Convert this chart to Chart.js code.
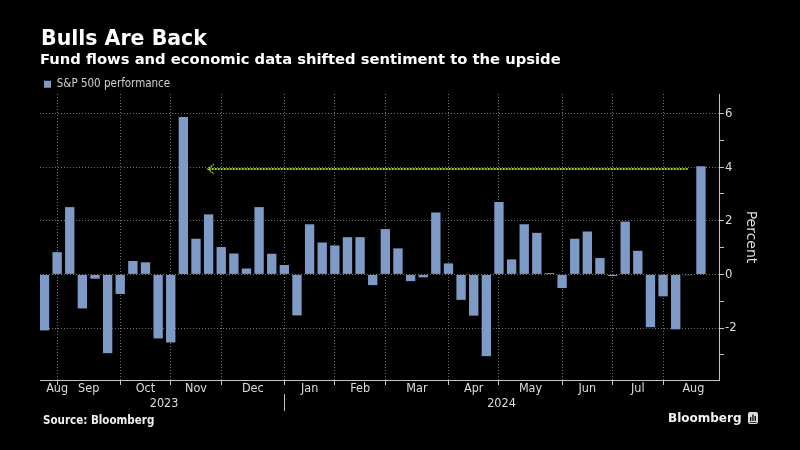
<!DOCTYPE html>
<html><head><meta charset="utf-8">
<script src="https://cdn.jsdelivr.net/npm/chart.js@4/dist/chart.umd.min.js"></script>
<style>
html,body{margin:0;padding:0;background:#000;width:800px;height:450px;overflow:hidden}
#wrap{position:relative;width:800px;height:450px;background:#000}
canvas{position:absolute;left:0;top:0}
.t{position:absolute;color:#fff;white-space:nowrap;line-height:1;font-family:"DejaVu Sans",sans-serif;font-weight:bold}
#title{left:41px;top:28px;font-size:20.5px}
#sub{left:40px;top:51.5px;font-size:14.75px}
#src{left:43px;top:414.5px;font-size:11.5px;font-family:"DejaVu Sans Condensed","DejaVu Sans",sans-serif;color:#eee}
#bbg{left:668px;top:411.5px;font-size:12px;color:#f2f2f2}
#logo{position:absolute;left:748px;top:412px}
</style></head>
<body><div id="wrap">
<canvas id="c" width="800" height="450"></canvas>
<div class="t" id="title">Bulls Are Back</div>
<div class="t" id="sub">Fund flows and economic data shifted sentiment to the upside</div>
<div class="t" id="src">Source: Bloomberg</div>
<div class="t" id="bbg">Bloomberg</div>
<svg id="logo" width="10" height="12" viewBox="0 0 10 12"><rect x="0" y="0" width="10" height="12" rx="2" fill="#dcdcdc"/><rect x="2" y="5" width="1.3" height="4" fill="#000"/><rect x="4.3" y="2.5" width="1.3" height="6.5" fill="#000"/><rect x="6.6" y="4" width="1.3" height="5" fill="#000"/><rect x="1.5" y="10" width="7" height="0.8" fill="#000"/></svg>
</div>
<script>
// ---- data ----
const weekEnding = ['2023-08-18','2023-08-25','2023-09-01','2023-09-08','2023-09-15','2023-09-22','2023-09-29','2023-10-06','2023-10-13','2023-10-20','2023-10-27','2023-11-03','2023-11-10','2023-11-17','2023-11-24','2023-12-01','2023-12-08','2023-12-15','2023-12-22','2023-12-29','2024-01-05','2024-01-12','2024-01-19','2024-01-26','2024-02-02','2024-02-09','2024-02-16','2024-02-23','2024-03-01','2024-03-08','2024-03-15','2024-03-22','2024-03-28','2024-04-05','2024-04-12','2024-04-19','2024-04-26','2024-05-03','2024-05-10','2024-05-17','2024-05-24','2024-05-31','2024-06-07','2024-06-14','2024-06-21','2024-06-28','2024-07-05','2024-07-12','2024-07-19','2024-07-26','2024-08-02','2024-08-09','2024-08-16'];
const spxWeeklyPct = [-2.09,0.83,2.51,-1.27,-0.16,-2.94,-0.73,0.50,0.45,-2.39,-2.54,5.87,1.33,2.24,1.02,0.78,0.22,2.51,0.77,0.35,-1.53,1.87,1.19,1.08,1.39,1.39,-0.40,1.69,0.97,-0.25,-0.11,2.31,0.41,-0.95,-1.54,-3.05,2.70,0.56,1.87,1.55,0.05,-0.51,1.33,1.60,0.61,-0.06,1.97,0.88,-1.97,-0.82,-2.05,-0.03,4.03];
const seriesName = 'S&P 500 performance';
const monthNames = ['Aug','Sep','Oct','Nov','Dec','Jan','Feb','Mar','Apr','May','Jun','Jul','Aug'];
const monthLabelAt = [1, 3.5, 8, 12, 16.5, 21, 25, 29.5, 34, 38.5, 43, 47, 51.4];
const monthGridAt = [1, 6, 10, 14, 19, 23, 27, 32, 36, 41, 45, 49];
const yearNames = ['2023','2024'];
const yearLabelAt = [9.47, 36.2];
const yearBoundaryAt = 19;
const yTickValues = [-3,-2,-1,0,1,2,3,4,5,6];
const yLabelValues = [-2,0,2,4,6];
const arrowLevel = 3.92, arrowTipWeek = 12.95, arrowTailWeek = 50.95;
const xRange = [-0.356, 53.43], yRange = [-3.94, 6.73];

// ---- styles ----
const BAR = '#7e9bc7', GRID = '#707070', AXIS = '#c4c4c4', TXT = '#dedede';
const COND = "'DejaVu Sans Condensed','DejaVu Sans',sans-serif";

const arrowPlugin = {
  id: 'shiftArrow',
  afterDatasetsDraw(chart) {
    const {ctx} = chart, x = chart.scales.x, y = chart.scales.y;
    const py = Math.round(y.getPixelForValue(arrowLevel));
    const xa = x.getPixelForValue(arrowTipWeek), xb = x.getPixelForValue(arrowTailWeek);
    ctx.save();
    ctx.strokeStyle = '#9ccf2f'; ctx.lineWidth = 2; ctx.setLineDash([2, 1]);
    ctx.beginPath(); ctx.moveTo(xb, py); ctx.lineTo(xa + 1, py); ctx.stroke();
    ctx.lineWidth = 1.6; ctx.setLineDash([1.5, 1]);
    ctx.beginPath(); ctx.moveTo(xa + 6, py - 5); ctx.lineTo(xa, py); ctx.lineTo(xa + 6, py + 5); ctx.stroke();
    ctx.restore();
  }
};
const yearSepPlugin = {
  id: 'yearSep',
  afterDraw(chart) {
    const {ctx} = chart, gx = chart.scales.x, yr = chart.scales.xYear;
    const px = Math.round(gx.getPixelForValue(yearBoundaryAt)) + 0.5;
    ctx.save(); ctx.strokeStyle = AXIS; ctx.lineWidth = 1;
    ctx.beginPath(); ctx.moveTo(px, yr.top - 2); ctx.lineTo(px, yr.bottom); ctx.stroke();
    ctx.restore();
  }
};

const baseX = {type:'linear', position:'bottom', min:xRange[0], max:xRange[1], offset:false};

new Chart(document.getElementById('c'), {
  type: 'bar',
  data: {
    datasets: [{
      label: seriesName,
      data: spxWeeklyPct.map((v, i) => ({x: i, y: v, date: weekEnding[i]})),
      backgroundColor: BAR, borderWidth: 0,
      barPercentage: 0.74, categoryPercentage: 1.0
    }]
  },
  options: {
    responsive: false, animation: false, devicePixelRatio: 1,
    layout: {padding: {left: 40, right: 41, top: 74.5, bottom: 39}},
    plugins: {
      legend: {
        position: 'top', align: 'start', maxHeight: 19.5,
        labels: {boxWidth: 7, boxHeight: 7, padding: 4, color: '#d0d0d0', font: {family: COND, size: 11.5}}
      },
      tooltip: {enabled: false}
    },
    scales: {
      x: Object.assign({}, baseX, {
        weight: 0,
        afterBuildTicks: s => { s.ticks = monthGridAt.map(v => ({value: v})); },
        afterFit: s => { s.height = 0; },
        ticks: {display: false},
        grid: {display: true, offset: false, color: GRID, lineWidth: 1, tickLength: 5, tickColor: AXIS, tickBorderDash: [], drawTicks: true},
        border: {display: true, color: AXIS, width: 1, dash: [1, 2]}
      }),
      xMonth: Object.assign({}, baseX, {
        weight: 1,
        afterBuildTicks: s => { s.ticks = monthLabelAt.map(v => ({value: v})); },
        afterFit: s => { s.height = 16; },
        ticks: {autoSkip: false, maxRotation: 0, padding: 1, color: TXT, font: {family: COND, size: 12.5},
                callback: (v, i) => monthNames[i]},
        grid: {display: false, drawTicks: false, offset: false},
        border: {display: false}
      }),
      xYear: Object.assign({}, baseX, {
        weight: 2,
        afterBuildTicks: s => { s.ticks = yearLabelAt.map(v => ({value: v})); },
        afterFit: s => { s.height = 15; },
        ticks: {autoSkip: false, maxRotation: 0, padding: 0, color: TXT, font: {family: COND, size: 12.5},
                callback: (v, i) => yearNames[i]},
        grid: {display: false, drawTicks: false, offset: false},
        border: {display: false}
      }),
      y: {
        type: 'linear', position: 'right', min: yRange[0], max: yRange[1],
        afterBuildTicks: s => { s.ticks = yTickValues.map(v => ({value: v})); },
        afterFit: s => { s.width = 40; },
        ticks: {padding: 1, color: TXT, font: {family: COND, size: 13},
                callback: v => yLabelValues.includes(v) ? String(v) : ''},
        grid: {
          color: c => (c.tick && yLabelValues.includes(c.tick.value)) ? GRID : 'rgba(0,0,0,0)',
          tickColor: AXIS, tickLength: 5, tickBorderDash: [], lineWidth: 1
        },
        border: {display: true, color: AXIS, width: 1, dash: [1, 2]},
        title: {display: true, text: 'Percent', color: TXT, font: {family: "'DejaVu Sans',sans-serif", size: 14}, padding: 0}
      }
    }
  },
  plugins: [arrowPlugin, yearSepPlugin]
});
</script>
</body></html>
